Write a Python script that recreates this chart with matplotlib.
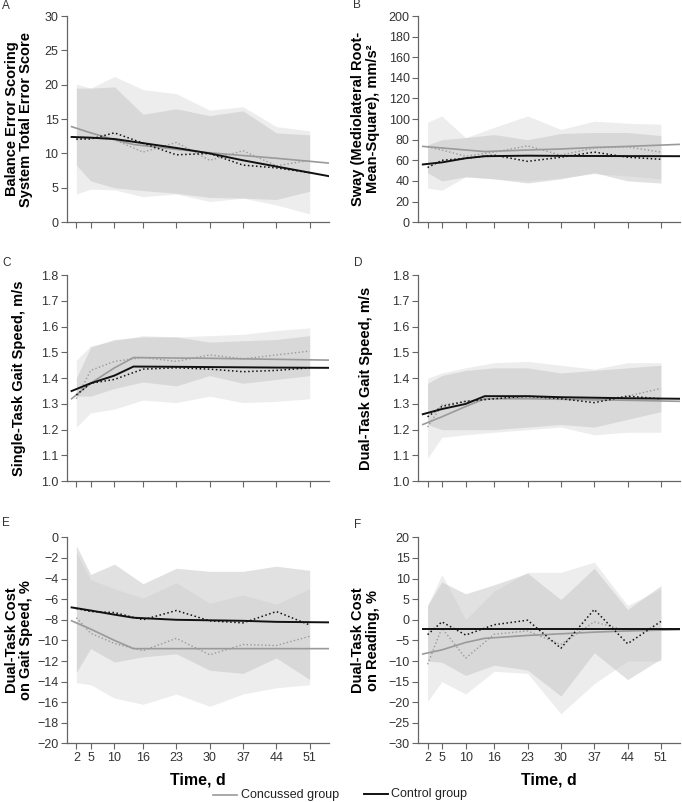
import matplotlib.pyplot as plt

plt.rcParams['font.family'] = ['Liberation Sans', 'DejaVu Sans']

days = [2, 5, 10, 16, 23, 30, 37, 44, 51]
fit_days = [1, 5, 10, 14, 23, 30, 37, 44, 55]
day_labels = ['2', '5', '10', '16', '23', '30', '37', '44', '51']

# A - BESS total error score
a_conc_mean = [12.0, 12.3, 12.0, 10.2, 11.6, 9.0, 10.4, 8.2, 9.0]
a_ctrl_mean = [12.1, 12.1, 13.0, 11.5, 9.8, 10.0, 8.3, 7.9, 7.2]
a_conc_fit = [13.9, 13.0, 12.0, 11.3, 10.6, 10.1, 9.7, 9.3, 8.6]
a_ctrl_fit = [12.4, 12.3, 12.1, 11.7, 10.8, 10.0, 9.0, 8.1, 6.7]
a_conc_lo = [4.1, 4.8, 4.7, 3.7, 4.1, 3.0, 3.5, 2.5, 1.2]
a_conc_hi = [20.1, 19.5, 21.2, 19.3, 18.7, 16.3, 16.8, 13.9, 13.3]
a_ctrl_lo = [8.3, 6.0, 5.0, 4.6, 4.2, 3.6, 3.5, 3.3, 4.5]
a_ctrl_hi = [19.5, 19.5, 19.7, 15.7, 16.5, 15.5, 16.2, 13.0, 12.7]

# B - sway
b_conc_mean = [73, 70, 64, 68, 74, 65, 72, 73, 68]
b_ctrl_mean = [53, 60, 62, 65, 59, 63, 68, 63, 61]
b_conc_fit = [73.5, 72, 70, 68.5, 70, 71, 72.5, 73.5, 75.5]
b_ctrl_fit = [56, 58, 62, 64, 64.5, 64.3, 64.2, 64.1, 64]
b_conc_lo = [33, 31, 44, 42, 40, 43, 47, 45, 42]
b_conc_hi = [97, 103, 82, 92, 103, 90, 98, 96, 95]
b_ctrl_lo = [48, 40, 44, 42, 38, 42, 48, 40, 38]
b_ctrl_hi = [75, 80, 82, 85, 80, 86, 87, 87, 84]

# C - single-task gait speed
c_conc_mean = [1.32, 1.43, 1.465, 1.48, 1.465, 1.49, 1.475, 1.49, 1.505]
c_ctrl_mean = [1.335, 1.38, 1.395, 1.435, 1.44, 1.435, 1.425, 1.43, 1.44]
c_conc_fit = [1.32, 1.38, 1.44, 1.48, 1.478, 1.477, 1.475, 1.473, 1.47]
c_ctrl_fit = [1.35, 1.38, 1.41, 1.445, 1.444, 1.443, 1.442, 1.441, 1.44]
c_conc_lo = [1.21, 1.265, 1.28, 1.315, 1.305, 1.33, 1.305, 1.31, 1.32]
c_conc_hi = [1.47, 1.525, 1.545, 1.565, 1.56, 1.565, 1.57, 1.585, 1.595]
c_ctrl_lo = [1.33, 1.33, 1.36, 1.385, 1.37, 1.41, 1.38, 1.395, 1.41]
c_ctrl_hi = [1.40, 1.52, 1.55, 1.56, 1.56, 1.54, 1.545, 1.55, 1.565]

# D - dual-task gait speed
d_conc_mean = [1.21, 1.295, 1.31, 1.32, 1.325, 1.325, 1.315, 1.33, 1.36]
d_ctrl_mean = [1.25, 1.29, 1.31, 1.32, 1.33, 1.32, 1.305, 1.33, 1.32]
d_conc_fit = [1.22, 1.25, 1.29, 1.32, 1.32, 1.318, 1.316, 1.314, 1.31]
d_ctrl_fit = [1.26, 1.28, 1.30, 1.33, 1.33, 1.326, 1.324, 1.322, 1.32]
d_conc_lo = [1.09, 1.17, 1.18, 1.19, 1.20, 1.21, 1.18, 1.19, 1.19]
d_conc_hi = [1.40, 1.42, 1.44, 1.46, 1.465, 1.45, 1.435, 1.46, 1.46]
d_ctrl_lo = [1.22, 1.20, 1.20, 1.20, 1.21, 1.22, 1.21, 1.24, 1.27]
d_ctrl_hi = [1.38, 1.41, 1.43, 1.44, 1.44, 1.42, 1.43, 1.44, 1.45]

# E - dual-task cost on gait speed
e_conc_mean = [-7.8, -9.3, -10.3, -11.0, -9.8, -11.4, -10.4, -10.5, -9.6]
e_ctrl_mean = [-6.9, -7.2, -7.3, -8.0, -7.1, -8.1, -8.3, -7.2, -8.5]
e_conc_fit = [-8.1, -8.9, -10.0, -10.8, -10.8, -10.8, -10.8, -10.8, -10.8]
e_ctrl_fit = [-6.8, -7.1, -7.5, -7.8, -8.0, -8.05, -8.1, -8.2, -8.25]
e_conc_lo = [-14.1, -14.3, -15.6, -16.2, -15.2, -16.4, -15.2, -14.6, -14.3]
e_conc_hi = [-1.5, -4.1, -5.0, -5.9, -4.4, -6.4, -5.6, -6.5, -5.0]
e_ctrl_lo = [-13.1, -10.8, -12.1, -11.6, -11.3, -12.9, -13.2, -11.7, -13.8]
e_ctrl_hi = [-0.8, -3.6, -2.6, -4.5, -3.0, -3.3, -3.3, -2.8, -3.2]

# F - dual-task cost on reading
f_conc_mean = [-10.8, -2.0, -9.3, -3.5, -2.7, -6.0, -0.5, -2.7, -2.5]
f_ctrl_mean = [-3.6, -0.5, -3.7, -1.2, -0.1, -6.9, 2.5, -5.8, -0.4]
f_conc_fit = [-8.3, -7.3, -5.5, -4.5, -3.8, -3.4, -3.0, -2.7, -2.4]
f_ctrl_fit = [-2.3, -2.3, -2.3, -2.3, -2.3, -2.3, -2.3, -2.3, -2.3]
f_conc_lo = [-19.8, -15.0, -18.0, -12.5, -13.0, -22.8, -15.5, -10.0, -10.0]
f_conc_hi = [3.5, 11.0, 0.0, 7.0, 11.5, 11.5, 14.0, 3.5, 7.5]
f_ctrl_lo = [-10.0, -10.3, -13.5, -11.0, -12.2, -18.5, -8.0, -14.5, -9.5]
f_ctrl_hi = [3.5, 9.2, 6.3, 8.5, 11.3, 4.9, 12.5, 2.5, 8.3]

panels = [
    ('A', 'Balance Error Scoring\nSystem Total Error Score', (0, 30), [0, 5, 10, 15, 20, 25, 30],
     a_conc_mean, a_ctrl_mean, a_conc_fit, a_ctrl_fit, a_conc_lo, a_conc_hi, a_ctrl_lo, a_ctrl_hi),
    ('B', 'Sway (Mediolateral Root-\nMean-Square), mm/s²', (0, 200), list(range(0, 201, 20)),
     b_conc_mean, b_ctrl_mean, b_conc_fit, b_ctrl_fit, b_conc_lo, b_conc_hi, b_ctrl_lo, b_ctrl_hi),
    ('C', 'Single-Task Gait Speed, m/s', (1.0, 1.8), [1.0, 1.1, 1.2, 1.3, 1.4, 1.5, 1.6, 1.7, 1.8],
     c_conc_mean, c_ctrl_mean, c_conc_fit, c_ctrl_fit, c_conc_lo, c_conc_hi, c_ctrl_lo, c_ctrl_hi),
    ('D', 'Dual-Task Gait Speed, m/s', (1.0, 1.8), [1.0, 1.1, 1.2, 1.3, 1.4, 1.5, 1.6, 1.7, 1.8],
     d_conc_mean, d_ctrl_mean, d_conc_fit, d_ctrl_fit, d_conc_lo, d_conc_hi, d_ctrl_lo, d_ctrl_hi),
    ('E', 'Dual-Task Cost\non Gait Speed, %', (-20, 0), list(range(-20, 1, 2)),
     e_conc_mean, e_ctrl_mean, e_conc_fit, e_ctrl_fit, e_conc_lo, e_conc_hi, e_ctrl_lo, e_ctrl_hi),
    ('F', 'Dual-Task Cost\non Reading, %', (-30, 20), list(range(-30, 21, 5)),
     f_conc_mean, f_ctrl_mean, f_conc_fit, f_ctrl_fit, f_conc_lo, f_conc_hi, f_ctrl_lo, f_ctrl_hi),
]

fig = plt.figure(figsize=(6.82, 8.02), dpi=100)
lefts = [0.098, 0.613]
bottoms = [0.723, 0.400, 0.073]
letter_pos = [(0.003, 0.9925), (0.517, 0.9938), (0.004, 0.6724), (0.519, 0.672), (0.003, 0.348), (0.519, 0.3454)]
label_x = [-0.182, -0.2]

for i, p in enumerate(panels):
    letter, ylab, ylim, yticks, cm, km, cf, kf, clo, chi, klo, khi = p
    row, col = i // 2, i % 2
    ax = fig.add_axes([lefts[col], bottoms[row], 0.384, 0.257])
    ax.fill_between(days, clo, chi, color='#d8d8d8', alpha=0.45, lw=0)
    ax.fill_between(days, klo, khi, color='#c4c4c4', alpha=0.5, lw=0)
    ax.plot(fit_days, cf, color='#9a9a9a', lw=1.2)
    ax.plot(days, cm, color='#9a9a9a', lw=1.0, ls=':')
    ax.plot(fit_days, kf, color='#111111', lw=1.4)
    ax.plot(days, km, color='#111111', lw=1.1, ls=':')
    ax.set_xlim(0, 55)
    ax.set_ylim(ylim)
    ax.set_yticks(yticks)
    if letter in ('C', 'D'):
        ax.set_yticklabels(['%.1f' % v for v in yticks])
    else:
        ax.set_yticklabels([str(v).replace('-', '−') for v in yticks])
    ax.set_xticks(days)
    if row == 2:
        ax.set_xticklabels(day_labels)
        ax.set_xlabel('Time, d', fontsize=11.5, fontweight='bold', labelpad=6)
    else:
        ax.set_xticklabels([])
    for s in ['top', 'right']:
        ax.spines[s].set_visible(False)
    for s in ['left', 'bottom']:
        ax.spines[s].set_color('#666666')
        ax.spines[s].set_linewidth(0.9)
    ax.tick_params(direction='out', length=4, width=0.8, color='#666666',
                   labelsize=9, labelcolor='#333333', pad=2)
    ax.set_ylabel(ylab, fontsize=10.5, fontweight='bold', linespacing=1.05, va='center')
    ax.yaxis.set_label_coords(label_x[col], 0.5)
    fig.text(letter_pos[i][0], letter_pos[i][1], letter, fontsize=8.5, color='#333333', va='center')

# legend at the bottom
fig.lines.append(plt.Line2D([0.312, 0.348], [0.009, 0.009], color='#9a9a9a', lw=1.2, transform=fig.transFigure))
fig.text(0.353, 0.009, 'Concussed group', fontsize=9, va='center', color='#222222')
fig.lines.append(plt.Line2D([0.534, 0.569], [0.010, 0.010], color='#111111', lw=1.4, transform=fig.transFigure))
fig.text(0.574, 0.010, 'Control group', fontsize=9, va='center', color='#222222')

fig.savefig('out.png', dpi=100)
